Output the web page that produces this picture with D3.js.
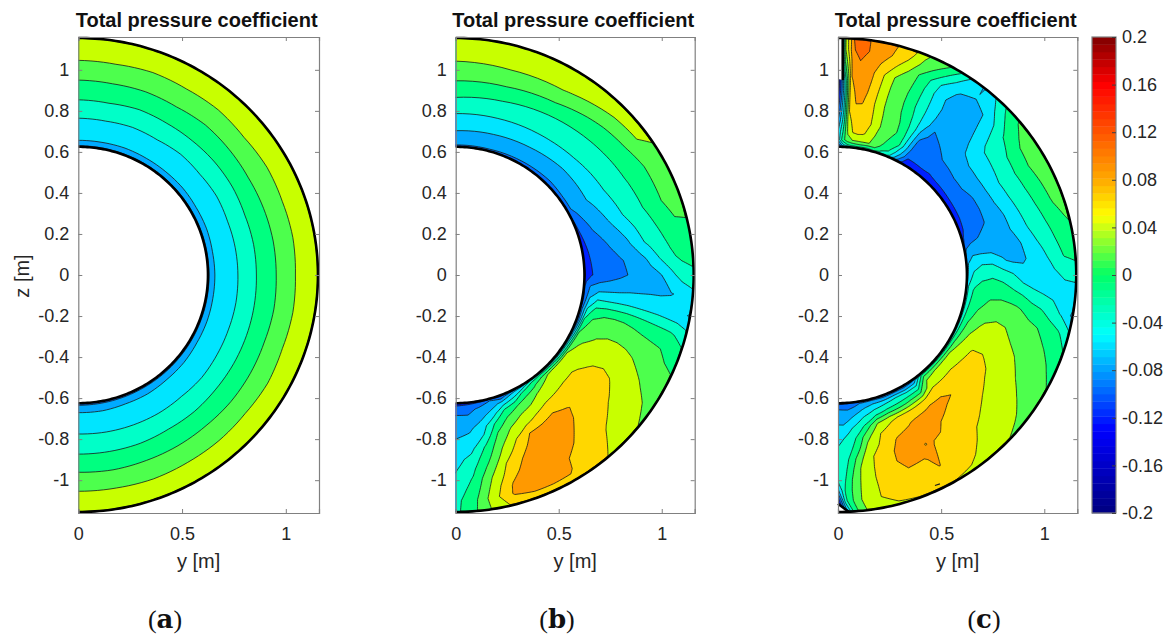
<!DOCTYPE html>
<html>
<head>
<meta charset="utf-8">
<script src="https://d3js.org/d3.v7.min.js"></script>
<style>
  html, body { margin: 0; padding: 0; background: #fff; }
  text { font-family: "Liberation Sans", Arial, sans-serif; fill: #262626; }
</style>
</head>
<body>
<svg id="chart" width="1164" height="637"></svg>
<script>
// total pressure coefficient, in thousandths
// every row is one angle, every column one radius
const radii = [0.62, 0.635, 0.66, 0.70, 0.75, 0.80, 0.85, 0.90, 0.95, 1.0, 1.05, 1.10, 1.15, 1.16];
const levels = [-175, -150, -125, -100, -75, -50, -25, 0, 25, 50, 75, 100, 125];
const bandColors = ['#00007f', '#0000b0', '#0020ff', '#0070ff', '#00aaff', '#00e5ff', '#00ffc8',
  '#00ff80', '#4dff4d', '#c8ff00', '#ffd700', '#ff9900', '#ff6a00', '#ff3000'];

const anglesA = [90, 80, 70, 60, 50, 40, 30, 20, 10, 0, -10, -20, -30, -40, -50, -60, -70, -80, -90];
const cpA = [
  [-125,-87,-73,-64,-54,-40,-26,-13,0,13,26,37,36,0],
  [-125,-87,-73,-63,-53,-40,-25,-13,1,13,27,37,36,0],
  [-125,-87,-74,-65,-54,-41,-27,-14,0,12,25,38,37,0],
  [-125,-87,-73,-64,-53,-39,-26,-12,1,14,26,37,36,0],
  [-125,-87,-73,-65,-55,-41,-26,-14,-1,12,25,36,36,0],
  [-125,-87,-74,-64,-54,-40,-27,-13,0,13,27,38,36,0],
  [-125,-87,-73,-65,-55,-42,-27,-14,1,13,25,37,35,0],
  [-125,-87,-74,-65,-54,-41,-26,-13,0,12,26,38,36,0],
  [-125,-87,-73,-66,-55,-41,-27,-14,-1,13,25,36,36,0],
  [-125,-88,-74,-66,-55,-42,-27,-15,-1,12,26,37,36,0],
  [-126,-89,-74,-65,-56,-42,-28,-14,-2,12,25,36,35,0],
  [-126,-90,-75,-66,-55,-43,-28,-16,-1,11,26,37,36,0],
  [-127,-92,-75,-67,-56,-43,-29,-15,-2,11,24,36,35,0],
  [-127,-93,-76,-66,-57,-44,-29,-16,-3,12,25,35,35,0],
  [-128,-95,-76,-67,-56,-43,-30,-17,-2,10,24,36,34,0],
  [-128,-96,-77,-68,-57,-44,-30,-16,-3,11,24,35,34,0],
  [-129,-98,-77,-67,-56,-45,-31,-18,-3,10,23,36,34,0],
  [-130,-99,-78,-68,-57,-44,-31,-18,-4,10,24,36,34,0],
  [-130,-100,-78,-67,-56,-44,-31,-18,-3,10,24,36,34,0]
];

const anglesB = [90, 75, 60, 45, 37, 30, 20, 10, 5, 0, -5, -10, -15, -20, -25, -30, -35, -40, -45, -50, -55, -60, -65, -70, -75, -80, -85, -90];
const cpB = [
  [-130,-98,-89,-76,-61,-46,-30,-14,1,14,27,36,34,10],
  [-130,-100,-92,-78,-62,-47,-33,-18,0,16,29,37,34,10],
  [-130,-102,-94,-81,-65,-49,-37,-25,-7,11,28,37,33,10],
  [-130,-104,-96,-85,-70,-52,-41,-30,-19,-6,14,29,28,5],
  [-130,-103,-95,-85,-70,-55,-43,-32,-22,-10,6,25,30,2],
  [-130,-103,-95,-84,-70,-57,-45,-34,-24,-13,-2,14,18,0],
  [-140,-125,-113,-97,-86,-70,-53,-40,-29,-16,-3,10,13,-10],
  [-150,-133,-122,-113,-103,-91,-80,-60,-43,-32,-20,-10,-9,-30],
  [-155,-140,-125,-118,-110,-103,-94,-83,-68,-46,-29,-20,-18,-40],
  [-160,-145,-126,-119,-112,-105,-98,-90,-83,-75,-57,-38,-30,-50],
  [-150,-110,-97,-88,-85,-83,-80,-79,-78,-78,-76,-72,-60,-80],
  [-150,-115,-73,-50,-50,-50,-51,-54,-57,-60,-65,-70,-76,-90],
  [-150,-100,-45,-12,-4,-3,-4,-8,-13,-18,-22,-27,-40,-70],
  [-150,-100,-18,8,15,18,17,14,9,5,1,-6,-14,-50],
  [-150,-80,0,15,26,30,31,29,24,17,10,4,0,-30],
  [-150,-60,15,30,36,42,44,42,36,29,22,14,5,-25],
  [-150,-50,25,37,45,53,56,52,44,38,32,26,12,-25],
  [-150,-40,28,40,54,60,64,62,53,44,38,31,26,-20],
  [-150,-30,30,43,52,63,68,68,63,56,47,41,30,-20],
  [-100,-25,20,35,50,68,76,74,70,66,62,56,50,-10],
  [-100,-30,-5,27,45,71,81,83,79,75,69,62,58,0],
  [-110,-65,-16,11,35,58,80,85,88,85,78,78,70,10],
  [-150,-80,-50,-3,25,45,75,85,90,92,91,86,62,10],
  [-150,-115,-68,-20,8,30,48,63,75,85,88,85,62,10],
  [-150,-100,-85,-62,-21,3,18,33,50,60,74,78,58,10],
  [-150,-115,-96,-83,-62,-47,-21,-8,7,23,33,42,35,5],
  [-150,-125,-107,-96,-81,-68,-58,-42,-31,-22,-14,-5,-2,-20],
  [-150,-128,-108,-95,-85,-75,-67,-59,-52,-45,-39,-33,-32,-60]
];

const anglesC = [90, 88, 86, 84, 82, 80, 77, 74, 71, 68, 65, 62, 59, 56, 52, 48, 44, 40, 35, 30, 25, 20, 15, 10, 5, 0, -5, -10, -15, -20, -25, -30, -35, -40, -45, -50, -55, -57, -60, -62, -65, -70, -75, -80, -83, -86, -88, -90];
const cpC = [
  [-160,-120,-70,-75,-100,-125,-150,-170,-185,-190,-190,-190,-190,-190],
  [-120,-60,-10,-25,-40,-50,-55,-60,-50,-20,5,25,30,10],
  [-100,-30,15,30,40,50,58,65,72,79,87,98,100,50],
  [-80,-20,25,52,60,68,77,82,87,93,100,108,108,50],
  [-80,-15,27,56,62,69,76,82,87,91,96,100,100,50],
  [-80,-15,28,53,60,64,67,70,73,76,84,90,92,50],
  [-80,-20,27,40,47,45,42,44,47,50,65,80,85,40],
  [-70,-5,7,15,24,23,21,21,22,25,46,62,68,30],
  [-80,-30,-4,6,12,13,12,11,11,16,25,44,55,25],
  [-80,-35,-20,-10,2,0,-5,-7,-6,-4,-1,18,30,10],
  [-100,-70,-50,-22,-18,-20,-24,-28,-28,-27,-22,0,12,-5],
  [-130,-110,-85,-68,-58,-50,-49,-49,-50,-52,-47,-22,3,-10],
  [-150,-140,-125,-112,-104,-92,-72,-68,-70,-74,-70,-46,-22,-40],
  [-150,-140,-125,-117,-110,-104,-99,-92,-85,-80,-77,-70,-50,-70],
  [-150,-140,-124,-115,-106,-100,-95,-90,-85,-81,-78,-74,-77,-95],
  [-150,-140,-126,-114,-101,-92,-88,-85,-82,-79,-75,-62,-48,-70],
  [-150,-138,-123,-110,-99,-87,-76,-70,-65,-58,-50,-33,-18,-45],
  [-150,-138,-122,-110,-95,-81,-70,-59,-42,-33,-24,-8,2,-25],
  [-150,-137,-120,-109,-95,-81,-68,-54,-39,-25,-7,6,9,-20],
  [-150,-137,-119,-108,-101,-84,-67,-50,-37,-22,-4,9,11,-20],
  [-150,-135,-119,-109,-102,-87,-70,-53,-39,-25,-10,6,9,-20],
  [-150,-130,-118,-109,-101,-89,-77,-59,-43,-30,-15,2,8,-20],
  [-140,-122,-108,-100,-92,-85,-78,-67,-48,-36,-22,-6,3,-20],
  [-120,-90,-82,-84,-85,-84,-80,-75,-58,-44,-30,-15,-7,-25],
  [-110,-75,-62,-54,-55,-72,-80,-78,-68,-56,-40,-24,-18,-40],
  [-100,-65,-45,-32,-29,-35,-47,-67,-72,-65,-55,-46,-42,-60],
  [-100,-50,-27,-18,-13,-15,-23,-33,-45,-52,-57,-62,-64,-85],
  [-100,-45,-20,-8,2,5,3,-2,-15,-23,-37,-53,-78,-100],
  [-100,-40,-12,2,14,21,20,13,7,0,-10,-20,-40,-75],
  [-100,-35,-5,15,31,34,30,21,14,8,2,-7,-20,-50],
  [-100,-30,0,27,38,43,40,32,24,18,11,3,-8,-40],
  [-100,-25,15,38,52,52,46,39,31,24,17,11,3,-25],
  [-100,-20,25,44,55,59,54,43,37,32,26,20,12,-20],
  [-100,-15,27,47,58,63,64,53,42,36,33,28,20,-20],
  [-100,-15,25,46,59,72,68,63,54,44,39,34,27,-20],
  [-100,-15,20,42,70,80,69,65,59,55,50,42,33,-20],
  [-130,-90,-50,0,68,82,80,68,62,59,57,57,45,-10],
  [-135,-95,-50,-2,63,81,84,78,66,62,60,60,47,-10],
  [-140,-100,-52,-5,57,80,85,82,71,68,65,63,50,-10],
  [-142,-97,-50,-10,55,78,85,86,85,80,76,64,50,-10],
  [-145,-95,-50,-15,53,73,82,85,82,73,66,64,50,-10],
  [-145,-100,-58,-20,47,62,78,85,82,75,67,63,50,-10],
  [-140,-92,-65,-34,28,50,57,64,68,65,60,58,48,-5],
  [-140,-98,-80,-53,-21,14,33,46,47,48,48,48,42,0],
  [-140,-108,-92,-67,-42,-19,-4,17,29,32,34,36,25,-10],
  [-140,-115,-100,-82,-56,-42,-32,-18,-8,0,3,2,-10,-80],
  [-140,-118,-99,-84,-70,-50,-43,-38,-33,-27,-22,-30,-90,-160],
  [-150,-120,-97,-83,-70,-56,-48,-45,-44,-45,-80,-150,-190,-190]
];

// the two corners of panel (c) with no measurement, in metres
// the first two points of each are the edge that is drawn in black
const wakeTopY = [0.023, 0.023, 0, 0];
const wakeTopZ = [1.16, 0.95, 0.955, 1.16];
const wakeBottomY = [0, 0.06, 0];
const wakeBottomZ = [-1.115, -1.16, -1.16];
// tiny closed contours of panel (c)
const spotY = [0.425];
const spotZ = [-0.825];
const lensY = [0.47, 0.494];
const lensZ = [-1.026, -1.018];

const yTicks = [0, 0.5, 1];
const zTicks = [-1, -0.8, -0.6, -0.4, -0.2, 0, 0.2, 0.4, 0.6, 0.8, 1];
const barTicks = [-0.2, -0.16, -0.12, -0.08, -0.04, 0, 0.04, 0.08, 0.12, 0.16, 0.2];
const barStopValues = [-0.2, -0.13, -0.05, 0, 0.05, 0.08, 0.16, 0.2];
const barStopColors = ['#00007f', '#0000ff', '#00ffff', '#00ff66', '#ffff00', '#ffaa00', '#ff0000', '#7f0000'];

const title = 'Total pressure coefficient';
const rHub = 0.625;
const rWall = 1.155;
const plotTop = 37;
const plotBottom = 513;
const axisColor = '#808080';
const tickFont = '18px';
const labelFont = '20px';

const svg = d3.select('#chart');
const zScale = d3.scaleLinear().domain([-1.16, 1.16]).range([plotBottom, plotTop]);

// extra vertices along every contour edge, so that edges follow the polar grid and not a chord
function densify(ring) {
  const out = [];
  ring.forEach(function(p, i) {
    if (i > 0) {
      const q = ring[i - 1];
      for (let k = 1; k < 6; k++) out.push([q[0] + (p[0] - q[0]) * k / 6, q[1] + (p[1] - q[1]) * k / 6]);
    }
    out.push(p);
  });
  return out;
}

function drawPanel(id, left, right, angles, cp, letter, labelX) {
  const x = d3.scaleLinear().domain([0, 1.16]).range([left, right]);
  const z = zScale;
  const g = svg.append('g').attr('id', 'panel-' + id);

  // d3.contours puts a value at the middle of its cell, hence the +0.5
  const rOfCol = d3.scaleLinear().domain(radii.map((d, i) => i + 0.5)).range(radii);
  const aOfRow = d3.scaleLinear().domain(angles.map((d, i) => i + 0.5)).range(angles);
  const toPixels = d3.geoTransform({
    point: function(cx, cy) {
      const r = rOfCol(cx), a = aOfRow(cy) * Math.PI / 180;
      this.stream.point(x(r * Math.cos(a)), z(r * Math.sin(a)));
    }
  });
  const path = d3.geoPath(toPixels);

  // half ring for clipping and for the walls
  const arcAngles = d3.range(90, -90.5, -1);
  const arcLine = d3.line().x(d => x(d[0])).y(d => z(d[1]));
  const arcAt = r => arcAngles.map(a => [r * Math.cos(a * Math.PI / 180), r * Math.sin(a * Math.PI / 180)]);
  const ring = arcLine(arcAt(rWall).concat(arcAt(rHub).reverse())) + 'Z';

  g.append('clipPath').attr('id', 'clip-' + id).append('path').attr('d', ring);
  const plot = g.append('g').attr('clip-path', 'url(#clip-' + id + ')');

  plot.append('path').attr('d', ring).attr('fill', bandColors[0]);

  const contours = d3.contours()
      .size([radii.length, angles.length])
      .thresholds(levels)(cp.flat());
  contours.forEach(function(c) {
    c.coordinates = c.coordinates.map(poly => poly.map(densify));
  });

  plot.selectAll('path.band')
      .data(contours)
      .enter()
      .append('path')
      .attr('class', 'band')
      .attr('d', path)
      .attr('fill', (d, i) => bandColors[i + 1])
      .attr('stroke', '#1a1a1a')
      .attr('stroke-width', 0.8)
      .attr('stroke-linejoin', 'round');

  if (id === 'c') {
    [[wakeTopY, wakeTopZ], [wakeBottomY, wakeBottomZ]].forEach(function(h) {
      const pts = h[0].map((d, i) => [d, h[1][i]]);
      g.append('path').attr('d', arcLine(pts) + 'Z').attr('fill', '#fff');
      g.append('path').attr('d', arcLine(pts.slice(0, 2))).attr('fill', 'none')
          .attr('stroke', '#000').attr('stroke-width', 2.6);
    });
    g.selectAll('circle.spot')
        .data(spotY)
        .enter()
        .append('circle')
        .attr('class', 'spot')
        .attr('cx', d => x(d))
        .attr('cy', (d, i) => z(spotZ[i]))
        .attr('r', 1)
        .attr('fill', '#ffd700')
        .attr('stroke', '#1a1a1a')
        .attr('stroke-width', 0.7);
    g.append('path')
        .attr('d', arcLine(lensY.map((d, i) => [d, lensZ[i]])))
        .attr('stroke', '#1a1a1a')
        .attr('stroke-width', 1.2);
  }

  // walls
  [rWall, rHub].forEach(function(r) {
    g.append('path')
        .attr('d', arcLine(arcAt(r)))
        .attr('fill', 'none')
        .attr('stroke', '#000')
        .attr('stroke-width', 2.6);
  });

  // axes, ticks point inwards on all four sides
  const noLabel = () => '';
  const axes = [
    [d3.axisBottom(x).tickValues(yTicks).tickFormat(String).tickSize(-4), 'translate(0,' + plotBottom + ')'],
    [d3.axisTop(x).tickValues(yTicks).tickFormat(noLabel).tickSize(-4), 'translate(0,' + plotTop + ')'],
    [d3.axisLeft(z).tickValues(zTicks).tickFormat(String).tickSize(-4), 'translate(' + left + ',0)'],
    [d3.axisRight(z).tickValues(zTicks).tickFormat(noLabel).tickSize(-4), 'translate(' + right + ',0)']
  ];
  axes.forEach(function(a) {
    const ax = g.append('g').attr('transform', a[1]).call(a[0]);
    ax.select('.domain').attr('stroke', axisColor).attr('stroke-width', 1.2);
    ax.selectAll('.tick line').attr('stroke', axisColor);
    ax.selectAll('text').style('font-size', tickFont).attr('fill', '#262626');
  });
  g.selectAll('g.tick text').filter(function() { return this.getAttribute('dy') === '0.71em'; })
      .attr('y', 14);
  g.selectAll('g.tick text').filter(function() { return this.getAttribute('dy') === '0.32em'; })
      .attr('x', -9);

  g.append('text')
      .attr('x', (left + right) / 2 - 2)
      .attr('y', 27)
      .attr('text-anchor', 'middle')
      .style('font-size', labelFont)
      .style('font-weight', 'bold')
      .style('fill', '#111')
      .text(title);

  g.append('text')
      .attr('x', (left + right) / 2)
      .attr('y', 568)
      .attr('text-anchor', 'middle')
      .style('font-size', labelFont)
      .text('y [m]');

  const label = g.append('text')
      .attr('x', labelX)
      .attr('y', 628)
      .attr('text-anchor', 'middle')
      .style('font-family', '"DejaVu Serif", "Liberation Serif", serif')
      .style('font-size', '26px')
      .style('fill', '#111');
  label.append('tspan').style('font-family', '"Liberation Serif", serif').text('(');
  label.append('tspan').style('font-weight', 'bold').text(letter);
  label.append('tspan').style('font-family', '"Liberation Serif", serif').text(')');
}

drawPanel('a', 78.3, 319, anglesA, cpA, 'a', 165);
drawPanel('b', 455.7, 694.7, anglesB, cpB, 'b', 557);
drawPanel('c', 838, 1077.3, anglesC, cpC, 'c', 984);

svg.append('text')
    .attr('transform', 'translate(29,276) rotate(-90)')
    .attr('text-anchor', 'middle')
    .style('font-size', labelFont)
    .text('z [m]');

// colour bar
const barLeft = 1092;
const barRight = 1116;
const barScale = d3.scaleLinear().domain([-0.2, 0.2]).range([plotBottom, plotTop]);
const barColor = d3.scaleLinear().domain(barStopValues).range(barStopColors);
const barSteps = 64;
const bar = svg.append('g').attr('id', 'colorbar');
bar.selectAll('rect')
    .data(d3.range(barSteps))
    .enter()
    .append('rect')
    .attr('x', barLeft)
    .attr('width', barRight - barLeft)
    .attr('y', d => barScale(-0.2 + (d + 1) * 0.4 / barSteps))
    .attr('height', (plotBottom - plotTop) / barSteps + 0.4)
    .attr('fill', d => barColor(-0.2 + (d + 0.5) * 0.4 / barSteps));
bar.append('rect')
    .attr('x', barLeft).attr('y', plotTop)
    .attr('width', barRight - barLeft).attr('height', plotBottom - plotTop)
    .attr('fill', 'none').attr('stroke', axisColor).attr('stroke-width', 1.2);
const barAxis = bar.append('g')
    .attr('transform', 'translate(' + barRight + ',0)')
    .call(d3.axisRight(barScale).tickValues(barTicks).tickFormat(String).tickSize(-4));
barAxis.select('.domain').remove();
barAxis.selectAll('.tick line').attr('stroke', '#404040');
barAxis.selectAll('text').attr('x', 6).style('font-size', tickFont).attr('fill', '#262626');
</script>
</body>
</html>
